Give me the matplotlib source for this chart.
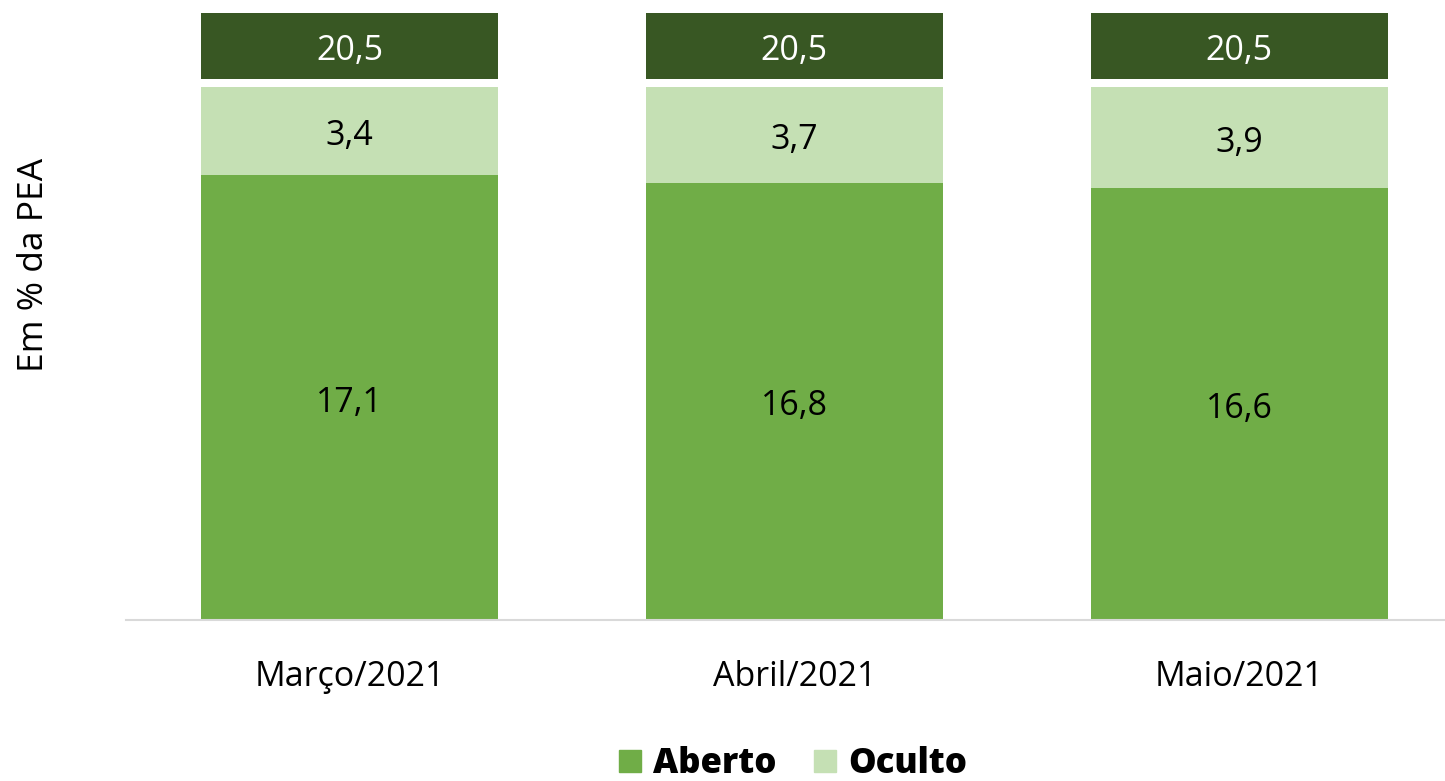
import matplotlib
matplotlib.use('Agg')
import matplotlib.pyplot as plt
from matplotlib.patches import Patch
import numpy as np

plt.rcParams['font.family'] = ['Open Sans', 'DejaVu Sans']

meses = ['Março/2021', 'Abril/2021', 'Maio/2021']
aberto = [17.1, 16.8, 16.6]
oculto = [3.4, 3.7, 3.9]
total = [20.5, 20.5, 20.5]

c_aberto = '#70AD47'
c_oculto = '#C5E0B4'
c_total = '#385723'

fig = plt.figure(figsize=(14.45, 7.81), dpi=100)
ax = fig.add_axes([126/1445, 161/781, 1 - 126/1445, 620/781])

x = np.arange(len(meses))
w = 0.668
gap = 0.31     # space between stacked bar and total box
box_h = 2.54   # height of the total box

ax.bar(x, aberto, w, color=c_aberto)
ax.bar(x, oculto, w, bottom=aberto, color=c_oculto)
tops = [a + o for a, o in zip(aberto, oculto)]
ax.bar(x, box_h, w, bottom=[t + gap for t in tops], color=c_total)

fmt = lambda v: f'{v:.1f}'.replace('.', ',')
def label(xx, yy, txt, cor='black'):
    ax.annotate(txt, (xx, yy), xytext=(0, -3.5), textcoords='offset points',
                ha='center', va='center', fontsize=24.5, color=cor)

for i in range(len(meses)):
    label(x[i], aberto[i] / 2, fmt(aberto[i]))
    label(x[i], aberto[i] + oculto[i] / 2, fmt(oculto[i]))
    label(x[i], tops[i] + gap + box_h / 2, fmt(total[i]), 'white')

ax.set_xlim(-0.5025, 2.463)
ax.set_ylim(0, 620 / 26.0)
ax.set_xticks(x)
ax.set_xticklabels(meses, fontsize=24.5)
ax.tick_params(axis='x', length=0, pad=28.5)
ax.set_yticks([])
for s in ['top', 'right', 'left']:
    ax.spines[s].set_visible(False)
ax.spines['bottom'].set_color('#d9d9d9')
ax.spines['bottom'].set_linewidth(1.5)

fig.text(34/1445, 1 - 265/781, 'Em % da PEA', rotation=90, ha='center', va='center', fontsize=25.5)

handles = [Patch(color=c_aberto, label='Aberto'), Patch(color=c_oculto, label='Oculto')]
fig.legend(handles=handles, loc='center', bbox_to_anchor=(793/1445, 1 - 764/781), ncol=2,
           frameon=False, prop={'weight': 'heavy', 'size': 25}, handlelength=0.62,
           handleheight=0.62, handletextpad=0.35, columnspacing=1.1)

fig.savefig('out.png', dpi=100)
